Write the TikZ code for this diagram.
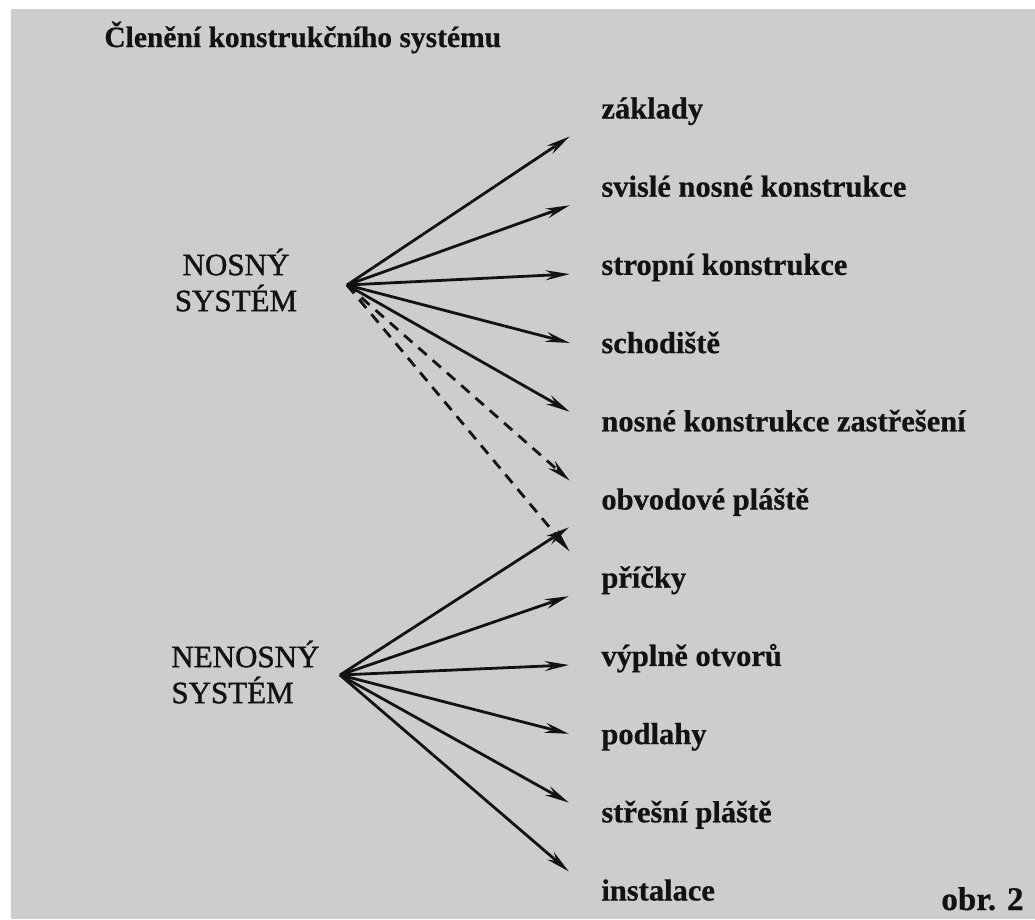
\documentclass[tikz,border=0pt]{standalone}
\usepackage{fontspec}
\setmainfont{Liberation Serif}[BoldFeatures={FakeBold=0.6}]
\newfontfamily\inkserif{Liberation Serif}[FakeBold=1.2]
\usepackage{xcolor}
\usetikzlibrary{arrows.meta, positioning, calc}
\definecolor{scangray}{RGB}{205,205,205}
\definecolor{inkblack}{RGB}{18,18,18}

\begin{document}
\begin{tikzpicture}[
        x=1pt, y=-1pt,
        >={Stealth[length=24pt, width=10pt, inset=8pt]},
        line width=2.8pt,
        sys/.style={font=\inkserif\fontsize{31}{36}\selectfont, inner sep=0pt, text=inkblack},
        part/.style={anchor=base west, font=\fontsize{30.5}{36}\selectfont\bfseries, inner sep=0pt, text=inkblack},
        link/.style={->, draw=inkblack},
        maybe/.style={link, dash pattern=on 11pt off 8pt}
    ]
        % Pozadi (naskenovany list)
        \useasboundingbox (0,0) rectangle (1035,919);
        \fill[white] (0,0) rectangle (1035,919);
        \fill[scangray] (11,9) rectangle (1035,919);

        % Nadpis
        \node[anchor=base west, font=\fontsize{29.5}{34}\selectfont\bfseries, inner sep=0pt, text=inkblack] (title) at (103,47) {Členění konstrukčního systému};

        % Nosny system
        \node[sys, align=center] (nosny) at (236,280) {NOSNÝ\\SYSTÉM};
        \coordinate (nosHub) at (347,285);

        % Nenosny system
        \node[sys, align=left, anchor=west] (nenosny) at (170,672) {NENOSNÝ\\SYSTÉM};
        \coordinate (nenHub) at (340,675);

        % Casti konstrukce
        \node[part] (zaklady) at (600,118.5) {základy};
        \node[part] (svisle) at (600,196.7) {svislé nosné konstrukce};
        \node[part] (stropni) at (600,274.9) {stropní konstrukce};
        \node[part] (schodiste) at (600,353.1) {schodiště};
        \node[part] (zastreseni) at (600,431.3) {nosné konstrukce zastřešení};
        \node[part] (obvodove) at (600,509.5) {obvodové pláště};
        \node[part] (pricky) at (600,587.7) {příčky};
        \node[part] (vyplne) at (600,665.9) {výplně otvorů};
        \node[part] (podlahy) at (600,744.1) {podlahy};
        \node[part] (stresni) at (600,822.3) {střešní pláště};
        \node[part] (instalace) at (600,900.5) {instalace};

        % Sipky z nosneho systemu
        \draw[link] (nosHub) -- ($(nosHub)!0.88!(zaklady.mid west)$);
        \draw[link] (nosHub) -- ($(nosHub)!0.88!(svisle.mid west)$);
        \draw[link] (nosHub) -- ($(nosHub)!0.88!(stropni.mid west)$);
        \draw[link] (nosHub) -- ($(nosHub)!0.88!(schodiste.mid west)$);
        \draw[link] (nosHub) -- ($(nosHub)!0.88!(zastreseni.mid west)$);
        \draw[maybe] (nosHub) -- ($(nosHub)!0.88!(obvodove.mid west)$); % castecne
        \draw[maybe] (nosHub) -- ($(nosHub)!0.88!(pricky.base west)$); % castecne

        % Sipky z nenosneho systemu
        \draw[link] (nenHub) -- ($(nenHub)!0.88!(obvodove.mid west)$);
        \draw[link] (nenHub) -- ($(nenHub)!0.88!(pricky.mid west)$);
        \draw[link] (nenHub) -- ($(nenHub)!0.88!(vyplne.mid west)$);
        \draw[link] (nenHub) -- ($(nenHub)!0.88!(podlahy.mid west)$);
        \draw[link] (nenHub) -- ($(nenHub)!0.88!(stresni.mid west)$);
        \draw[link] (nenHub) -- ($(nenHub)!0.88!(instalace.mid west)$);

        % Cislo obrazku
        \node[anchor=base east, font=\fontsize{33}{38}\selectfont\bfseries, inner sep=0pt, text=inkblack] (obr) at (1025,910) {obr. 2};

    \end{tikzpicture}
\end{document}
